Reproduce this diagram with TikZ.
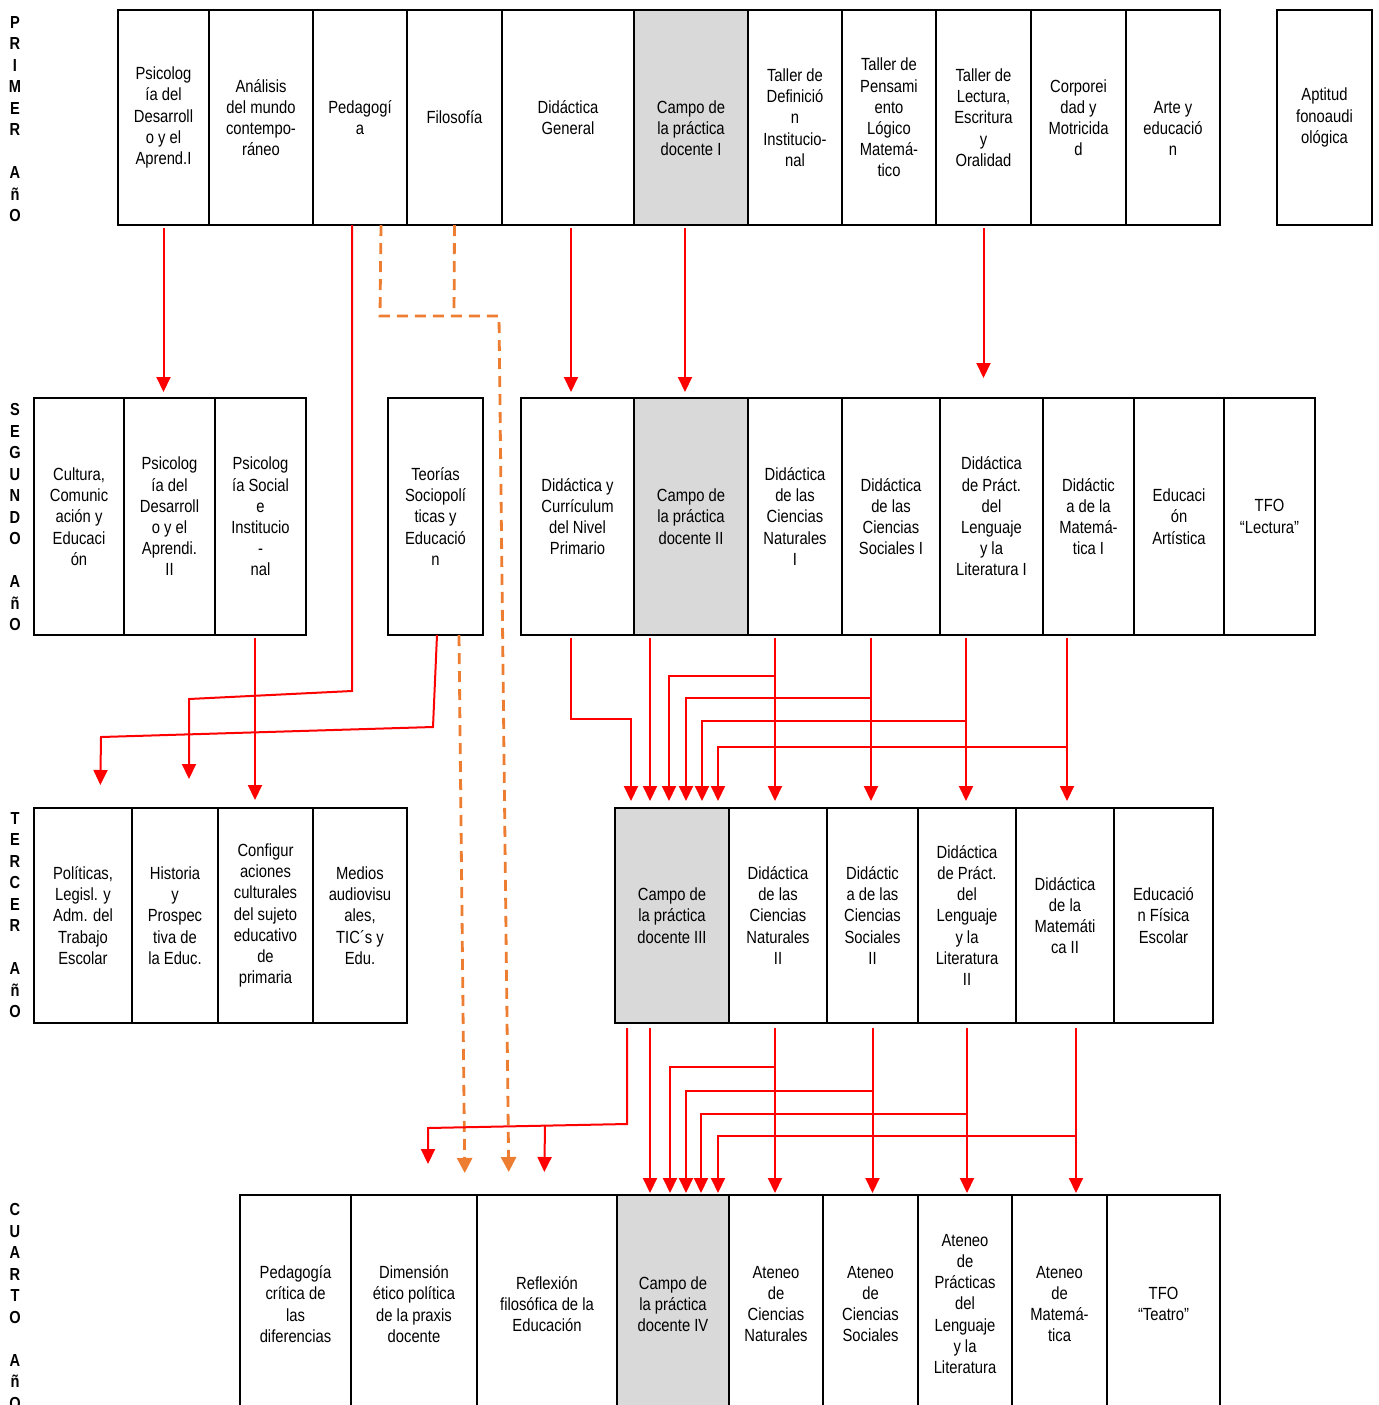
\documentclass[tikz,border=0pt]{standalone}
\usepackage{fontspec}
\setmainfont{Liberation Sans}[FakeStretch=0.84]
\usepackage{xcolor}
\usetikzlibrary{arrows.meta}
\definecolor{reqred}{HTML}{FF0000}
\definecolor{weakorange}{HTML}{ED7D31}
\definecolor{practgray}{HTML}{D9D9D9}

\begin{document}
\begin{tikzpicture}[
  x=0.5pt,y=-0.5pt,
  every node/.style={font=\fontsize{8.8}{10.6}\selectfont,align=center},
  subj/.style={draw=black,line width=1pt,inner sep=1pt,outer sep=0pt},
  practice/.style={subj,fill=practgray},
  rowA/.style={minimum height=107.5pt},
  rowB/.style={minimum height=118.5pt},
  rowC/.style={minimum height=107.5pt},
  rowD/.style={minimum height=109pt},
  yearlab/.style={font=\bfseries\fontsize{8.7}{10.75}\selectfont,anchor=north,inner sep=0pt},
  req/.style={draw=reqred,line width=1pt,-{Triangle[width=7pt,length=7.5pt]}},
  reqline/.style={draw=reqred,line width=1pt},
  weak/.style={draw=weakorange,line width=1.4pt,dash pattern=on 5.5pt off 3.5pt,
               -{Triangle[width=7.5pt,length=7.5pt]}},
  weakline/.style={draw=weakorange,line width=1.4pt,dash pattern=on 5.5pt off 3.5pt}
]
  \useasboundingbox (0,0) rectangle (1379,1405);

  % year labels
  \node[yearlab] (yr1) at (15,16) {P\\R\\I\\M\\E\\R\\[10.75pt]A\\ñ\\O};
  \node[yearlab] (yr2) at (15,403) {S\\E\\G\\U\\N\\D\\O\\[10.75pt]A\\ñ\\O};
  \node[yearlab] (yr3) at (15,812) {T\\E\\R\\C\\E\\R\\[10.75pt]A\\ñ\\O};
  \node[yearlab] (yr4) at (15,1203) {C\\U\\A\\R\\T\\O\\[10.75pt]A\\ñ\\O};

  % first year
  \node[subj,rowA,minimum width=45.5pt] (psiA) at (163.5,117.5)
    {Psicolog\\ía del\\Desarroll\\o y el\\Aprend.I};
  \node[subj,rowA,minimum width=52pt] (ana) at (261,117.5)
    {Análisis\\del mundo\\contempo-\\ráneo};
  \node[subj,rowA,minimum width=47pt] (ped) at (360,117.5) {Pedagogí\\a};
  \node[subj,rowA,minimum width=47.5pt] (fil) at (454.5,117.5) {Filosofía};
  \node[subj,rowA,minimum width=66pt] (didg) at (568,117.5) {Didáctica\\General};
  \node[practice,rowA,minimum width=57pt] (cp1) at (691,117.5)
    {\rule{0pt}{6.6pt}\\Campo de\\la práctica\\docente I};
  \node[subj,rowA,minimum width=47pt] (tdi) at (795,117.5)
    {Taller de\\Definició\\n\\Institucio-\\nal};
  \node[subj,rowA,minimum width=47pt] (tpl) at (889,117.5)
    {Taller de\\Pensami\\ento\\Lógico\\Matemá-\\tico};
  \node[subj,rowA,minimum width=47.5pt] (tle) at (983.5,117.5)
    {Taller de\\Lectura,\\Escritura\\y\\Oralidad};
  \node[subj,rowA,minimum width=47.5pt] (cor) at (1078.5,117.5)
    {Corporei\\dad y\\Motricida\\d};
  \node[subj,rowA,minimum width=47pt] (arte) at (1173,117.5)
    {\rule{0pt}{6.6pt}\\Arte y\\educació\\n};
  \node[subj,rowA,minimum width=47.5pt] (apt) at (1324.5,117.5)
    {Aptitud\\fonoaudi\\ológica};

  % second year
  \node[subj,rowB,minimum width=45pt] (cul) at (79,516.5)
    {Cultura,\\Comunic\\ación y\\Educaci\\ón};
  \node[subj,rowB,minimum width=45.5pt] (psiB) at (169.5,516.5)
    {Psicolog\\ía del\\Desarroll\\o y el\\Aprendi.\\II};
  \node[subj,rowB,minimum width=45.5pt] (pss) at (260.5,516.5)
    {Psicolog\\ía Social\\e\\Institucio\\-\\nal};
  \node[subj,rowB,minimum width=47.5pt] (teo) at (435.5,516.5)
    {Teorías\\Sociopolí\\ticas y\\Educació\\n};
  \node[subj,rowB,minimum width=56.5pt] (dcur) at (577.5,516.5)
    {Didáctica y\\Currículum\\del Nivel\\Primario};
  \node[practice,rowB,minimum width=57pt] (cp2) at (691,516.5)
    {Campo de\\la práctica\\docente II};
  \node[subj,rowB,minimum width=47pt] (dcn1) at (795,516.5)
    {Didáctica\\de las\\Ciencias\\Naturales\\I};
  \node[subj,rowB,minimum width=49pt] (dcs1) at (891,516.5)
    {Didáctica\\de las\\Ciencias\\Sociales I};
  \node[subj,rowB,minimum width=51.5pt] (dpl1) at (991.5,516.5)
    {Didáctica\\de Práct.\\del\\Lenguaje\\y la\\Literatura I};
  \node[subj,rowB,minimum width=45.5pt] (dm1) at (1088.5,516.5)
    {Didáctic\\a de la\\Matemá-\\tica I};
  \node[subj,rowB,minimum width=45pt] (eart) at (1179,516.5)
    {Educaci\\ón\\Artística};
  \node[subj,rowB,minimum width=45.5pt] (tfo1) at (1269.5,516.5) {TFO\\“Lectura”};

  % third year
  \node[subj,rowC,minimum width=49pt] (pol) at (83,915.5)
    {Políticas,\\Legisl. y\\Adm. del\\Trabajo\\Escolar};
  \node[subj,rowC,minimum width=43pt] (his) at (175,915.5)
    {Historia\\y\\Prospec\\tiva de\\la Educ.};
  \node[subj,rowC,minimum width=47.5pt] (conf) at (265.5,915.5)
    {Configur\\aciones\\culturales\\del sujeto\\educativo\\de\\primaria};
  \node[subj,rowC,minimum width=47pt] (med) at (360,915.5)
    {Medios\\audiovisu\\ales,\\TIC´s y\\Edu.};
  \node[practice,rowC,minimum width=57pt] (cp3) at (672,915.5)
    {Campo de\\la práctica\\docente III};
  \node[subj,rowC,minimum width=49pt] (dcn2) at (778,915.5)
    {Didáctica\\de las\\Ciencias\\Naturales\\II};
  \node[subj,rowC,minimum width=45.5pt] (dcs2) at (872.5,915.5)
    {Didáctic\\a de las\\Ciencias\\Sociales\\II};
  \node[subj,rowC,minimum width=49pt] (dpl2) at (967,915.5)
    {Didáctica\\de Práct.\\del\\Lenguaje\\y la\\Literatura\\II};
  \node[subj,rowC,minimum width=49pt] (dm2) at (1065,915.5)
    {Didáctica\\de la\\Matemáti\\ca II};
  \node[subj,rowC,minimum width=49.5pt] (efe) at (1163.5,915.5)
    {Educació\\n Física\\Escolar};

  % fourth year
  \node[subj,rowD,minimum width=55.5pt] (pcd) at (295.5,1304)
    {Pedagogía\\crítica de\\las\\diferencias};
  \node[subj,rowD,minimum width=63pt] (dep) at (414,1304)
    {Dimensión\\ético política\\de la praxis\\docente};
  \node[subj,rowD,minimum width=70pt] (rfe) at (547,1304)
    {Reflexión\\filosófica de la\\Educación};
  \node[practice,rowD,minimum width=56pt] (cp4) at (673,1304)
    {Campo de\\la práctica\\docente IV};
  \node[subj,rowD,minimum width=47pt] (acn) at (776,1304)
    {Ateneo\\de\\Ciencias\\Naturales};
  \node[subj,rowD,minimum width=47.5pt] (acs) at (870.5,1304)
    {Ateneo\\de\\Ciencias\\Sociales};
  \node[subj,rowD,minimum width=47pt] (apl) at (965,1304)
    {Ateneo\\de\\Prácticas\\del\\Lenguaje\\y la\\Literatura};
  \node[subj,rowD,minimum width=47.5pt] (am) at (1059.5,1304)
    {Ateneo\\de\\Matemá-\\tica};
  \node[subj,rowD,minimum width=56.5pt] (tfo2) at (1163.5,1304) {TFO\\“Teatro”};

  % first to second year
  \draw[req,shorten <=1.5pt,shorten >=3pt] (psiA.south) -- (psiA.south |- psiB.north);
  \draw[req,shorten <=1.5pt,shorten >=3pt] ([xshift=1.5pt]didg.south)
    -- ([xshift=1.5pt]didg.south |- dcur.north);
  \draw[req,shorten <=1.5pt,shorten >=3pt] ([xshift=-3pt]cp1.south)
    -- ([xshift=-3pt]cp1.south |- cp2.north);
  \draw[req,shorten <=1.5pt,shorten >=10pt] (tle.south) -- (tle.south |- dpl1.north);
  \draw[req,shorten >=14.5pt] ([xshift=-4pt]ped.south) -- (352,691) -- (189,699)
    -- (his.north -| 189,0);
  \draw[weakline] (fil.south) -- (454,316);
  \draw[weak,shorten >=11.5pt] ([xshift=10.5pt]ped.south) -- (380,316) -- (499,316)
    -- (rfe.north -| 509,0);

  % second to third year, left
  \draw[req,shorten >=11.5pt] ([xshift=0.75pt]teo.south) -- (433,727) -- (101,737)
    -- (pol.north -| 100,0);
  \draw[req,shorten <=1.5pt,shorten >=4pt] ([xshift=-2.75pt]pss.south)
    -- ([xshift=-2.75pt]pss.south |- conf.north);
  \draw[weak,shorten >=11pt] ([xshift=11.75pt]teo.south) -- (dep.north -| 465,0);

  % second to third year, right
  \draw[req,shorten <=1.5pt,shorten >=3.5pt] ([xshift=-3.25pt]dcur.south) -- (571,719)
    -- (631,719) -- (cp3.north -| 631,0);
  \draw[req,shorten <=1.5pt,shorten >=3.5pt] ([xshift=-20.5pt]cp2.south)
    -- ([xshift=-20.5pt]cp2.south |- cp3.north);
  \draw[req,shorten <=1.5pt,shorten >=3.5pt] ([xshift=-10pt]dcn1.south)
    -- ([xshift=-10pt]dcn1.south |- dcn2.north);
  \draw[req,shorten >=3.5pt] (775,676) -- (669,676) -- (cp3.north -| 669,0);
  \draw[req,shorten <=1.5pt,shorten >=3.5pt] ([xshift=-10pt]dcs1.south)
    -- ([xshift=-10pt]dcs1.south |- dcs2.north);
  \draw[req,shorten >=3.5pt] (871,698) -- (686,698) -- (cp3.north -| 686,0);
  \draw[req,shorten <=1.5pt,shorten >=3.5pt] ([xshift=-12.75pt]dpl1.south)
    -- ([xshift=-12.75pt]dpl1.south |- dpl2.north);
  \draw[req,shorten >=3.5pt] (966,721) -- (702,721) -- (cp3.north -| 702,0);
  \draw[req,shorten <=1.5pt,shorten >=3.5pt] ([xshift=-10.75pt]dm1.south)
    -- ([xshift=-10.75pt]dm1.south |- dm2.north);
  \draw[req,shorten >=3.5pt] (1067,747) -- (718,747) -- (cp3.north -| 718,0);

  % third to fourth year
  \draw[req,shorten <=2.5pt,shorten >=15.5pt] ([xshift=-22.5pt]cp3.south) -- (627,1124)
    -- (428,1128) -- (pcd.north -| 428,0);
  \draw[req,shorten >=11.5pt] (545,1126) -- (rfe.north -| 544,0);
  \draw[req,shorten <=2.5pt,shorten >=1pt] ([xshift=-11pt]cp3.south)
    -- ([xshift=-11pt]cp3.south |- cp4.north);
  \draw[req,shorten <=2.5pt,shorten >=1pt] ([xshift=-1.5pt]dcn2.south)
    -- ([xshift=-1.5pt]dcn2.south |- acn.north);
  \draw[req,shorten >=1pt] (775,1067) -- (670,1067) -- (cp4.north -| 670,0);
  \draw[req,shorten <=2.5pt,shorten >=1pt] (dcs2.south) -- (dcs2.south |- acs.north);
  \draw[req,shorten >=1pt] (872,1091) -- (686,1091) -- (cp4.north -| 686,0);
  \draw[req,shorten <=2.5pt,shorten >=1pt] (dpl2.south) -- (dpl2.south |- apl.north);
  \draw[req,shorten >=1pt] (966,1114) -- (701,1114) -- (cp4.north -| 701,0);
  \draw[req,shorten <=2.5pt,shorten >=1pt] ([xshift=5.5pt]dm2.south)
    -- ([xshift=5.5pt]dm2.south |- am.north);
  \draw[req,shorten >=1pt] (1076,1136) -- (718,1136) -- (cp4.north -| 718,0);
\end{tikzpicture}
\end{document}
